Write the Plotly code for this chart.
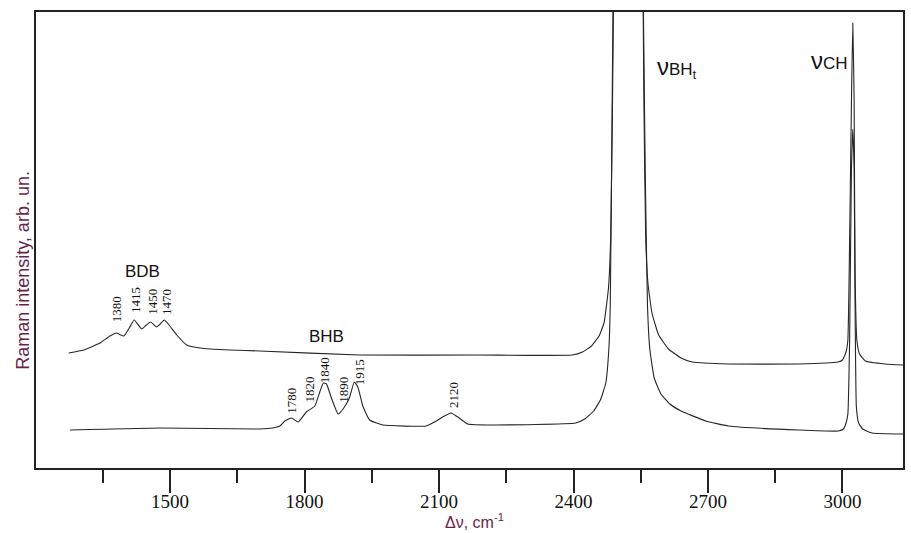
import plotly.graph_objects as go

# ---- data (wavenumber, cm-1 ; intensity, arb. units) ----
wn_upper = [1274, 1307, 1344, 1366, 1380, 1397, 1409, 1420, 1437, 1447, 1457, 1470, 1478,
            1487, 1496, 1515, 1537, 1567, 1634, 1700, 1923, 2190, 2397, 2420, 2440, 2457, 2468,
            2478, 2483, 2487, 2489, 2490, 2554, 2555.5, 2557, 2561, 2566, 2575, 2590, 2612,
            2640, 2665, 2746, 2902, 2990, 3000, 3008, 3012, 3015, 3020, 3023, 3026, 3028,
            3032, 3038, 3051, 3095, 3136]
int_upper = [115, 118, 125, 132, 135, 132, 140, 148, 139, 143, 146, 141, 144,
             148, 144, 133, 123, 120, 118, 117, 113, 113, 113, 116, 122, 132, 145,
             180, 231, 367, 456, 528, 528, 456, 367, 231, 185, 155, 133, 119,
             110, 106, 104, 104, 106, 108, 116, 128, 197, 367, 445, 367, 197,
             128, 114, 107, 104, 103]

wn_lower = [1277, 1478, 1700, 1729, 1745, 1756, 1771, 1786, 1804, 1823, 1834, 1842, 1849,
            1860, 1875, 1886, 1900, 1911, 1919, 1930, 1945, 1975, 2071, 2094, 2112, 2127,
            2145, 2164, 2220, 2405, 2425, 2445, 2460, 2472, 2479, 2482, 2485, 2488, 2489,
            2555, 2556, 2560, 2565, 2570, 2580, 2595, 2615, 2640, 2695, 2746, 2902, 2991,
            3002, 3008, 3012, 3016, 3020, 3023, 3026, 3028, 3031, 3036, 3045, 3066, 3136]
int_lower = [38, 40, 39, 40, 42, 47, 50, 46, 56, 62, 76, 85, 84,
             70, 54, 59, 70, 86, 81, 62, 48, 43, 42, 47, 52, 55,
             50, 44, 43, 45, 49, 57, 68, 85, 120, 163, 299, 456, 528,
             528, 456, 298, 163, 120, 90, 74, 64, 57, 47, 42, 38, 37,
             39, 45, 54, 129, 299, 339, 299, 168, 61, 45, 39, 35, 34]

upper_peaks = ["1380", "1415", "1450", "1470"]
upper_peak_x = [1380, 1422, 1459, 1491]
upper_peak_y = [159, 168, 166, 166]

lower_peaks = ["1780", "1820", "1840", "1890", "1915", "2120"]
lower_peak_x = [1769, 1809, 1844, 1885, 1922, 2131]
lower_peak_y = [67, 78, 98, 78, 96, 73]

tick_vals = [1500, 1800, 2100, 2400, 2700, 3000]

LINE = "#262626"
MAROON = "#6b1f4e"

fig = go.Figure()
fig.add_trace(go.Scatter(x=wn_upper, y=int_upper, mode="lines",
                         line=dict(color=LINE, width=1.1, shape="spline", smoothing=0.4),
                         hoverinfo="skip"))
fig.add_trace(go.Scatter(x=wn_lower, y=int_lower, mode="lines",
                         line=dict(color=LINE, width=1.1, shape="spline", smoothing=0.4),
                         hoverinfo="skip"))

ann = []
for t, x, y in zip(upper_peaks + lower_peaks, upper_peak_x + lower_peak_x,
                   upper_peak_y + lower_peak_y):
    ann.append(dict(x=x, y=y, xref="x", yref="y", text=t, showarrow=False,
                    xanchor="center", yanchor="middle",
                    textangle=-90, font=dict(family="Liberation Serif", size=13, color="#111")))

sans = "Liberation Sans, Arial, sans-serif"
ann += [
    dict(x=1438, y=197, xref="x", yref="y", text="BDB", showarrow=False,
         xanchor="center", yanchor="middle", font=dict(family=sans, size=17, color="#111")),
    dict(x=1850, y=132, xref="x", yref="y", text="BHB", showarrow=False,
         xanchor="center", yanchor="middle", font=dict(family=sans, size=17, color="#111")),
    dict(x=2631, y=401, xref="x", yref="y",
         text="<span style='font-size:24px'>ν</span>BH<sub>t</sub>", showarrow=False,
         xanchor="center", yanchor="middle", font=dict(family=sans, size=17, color="#111")),
    dict(x=2971, y=408, xref="x", yref="y",
         text="<span style='font-size:24px'>ν</span>CH", showarrow=False,
         xanchor="center", yanchor="middle", font=dict(family=sans, size=17, color="#111")),
    dict(x=-0.0158, y=0.433, xref="paper", yref="paper", text="Raman intensity, arb. un.",
         xanchor="center", yanchor="middle",
         showarrow=False, textangle=-90, font=dict(family=sans, size=18, color=MAROON)),
    dict(x=0.5055, y=-0.1156, xref="paper", yref="paper", text="Δν, cm<sup>-1</sup>",
         xanchor="center", yanchor="middle",
         showarrow=False, font=dict(family=sans, size=16, color=MAROON)),
]

fig.update_layout(
    width=911, height=533,
    margin=dict(l=36, r=6, t=12, b=65),
    paper_bgcolor="white", plot_bgcolor="white",
    showlegend=False,
    annotations=ann,
    xaxis=dict(range=[1201, 3135], showgrid=False, zeroline=False,
               showline=True, linecolor="#222", linewidth=2, mirror=True,
               ticks="outside", ticklen=23, tickwidth=2, tickcolor="#222",
               tickvals=tick_vals, ticktext=[str(v) for v in tick_vals],
               ticklabelstandoff=-8,
               tickfont=dict(family="Liberation Serif", size=19, color="#111"),
               minor=dict(ticks="outside", ticklen=13, tickwidth=2, tickcolor="#222", dtick=150, tick0=1350)),
    yaxis=dict(range=[0, 456], showgrid=False, zeroline=False, showticklabels=False,
               showline=True, linecolor="#222", linewidth=2, mirror=True, ticks=""),
)

fig.write_html("out.html")
